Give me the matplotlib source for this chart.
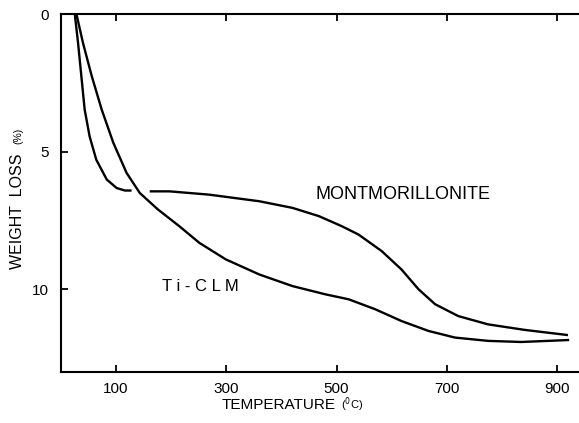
import matplotlib
matplotlib.use('Agg')
import matplotlib.pyplot as plt

plt.rcParams['font.family'] = ['Liberation Sans', 'DejaVu Sans']

# montmorillonite, first part (the trace has a small gap near 140 C)
mont_t1 = [25, 31, 37, 43, 52, 64, 83, 101, 116, 128]
mont_w1 = [0, 1.06, 2.27, 3.48, 4.45, 5.29, 6.01, 6.32, 6.41, 6.41]
# montmorillonite, after the gap
mont_t2 = [161, 197, 269, 360, 420, 468, 510, 540, 582, 618, 649, 679, 721, 775, 841, 920]
mont_w2 = [6.44, 6.44, 6.56, 6.80, 7.04, 7.34, 7.71, 8.01, 8.61, 9.28, 10.0, 10.54, 10.97, 11.27, 11.47, 11.66]

ticlm_t = [28, 40, 56, 74, 95, 119, 143, 176, 215, 251, 299, 360, 420, 480, 522, 570, 618, 667, 715, 775, 835, 920]
ticlm_w = [0, 1.06, 2.27, 3.48, 4.68, 5.77, 6.50, 7.10, 7.71, 8.31, 8.91, 9.46, 9.88, 10.18, 10.36, 10.72, 11.15, 11.51, 11.75, 11.87, 11.91, 11.84]

xticks = [100, 300, 500, 700, 900]
yticks = [0, 5, 10]

fig = plt.figure(figsize=(5.79, 4.23), dpi=100)
ax = fig.add_axes([61/579, 1-372/423, 1-61/579, (372-14)/423])

ax.plot(mont_t1, mont_w1, color='black', lw=1.7, solid_capstyle='butt')
ax.plot(mont_t2, mont_w2, color='black', lw=1.7, solid_capstyle='butt')
ax.plot(ticlm_t, ticlm_w, color='black', lw=1.7)

ax.set_xlim(0, 940)
ax.set_ylim(13, 0)
ax.set_xticks(xticks)
ax.set_yticks(yticks)
ax.spines['right'].set_visible(False)
for s in ['left', 'top', 'bottom']:
    ax.spines[s].set_linewidth(1.5)
ax.tick_params(axis='x', direction='in', top=True, length=5, width=1.3, pad=7, labelsize=11)
ax.tick_params(axis='y', direction='in', length=5, width=1.3, pad=9, labelsize=11)

ax.text(462, 6.56, 'MONTMORILLONITE', fontsize=13, ha='left', va='center')
ax.text(184, 9.88, 'T i - C L M', fontsize=12, ha='left', va='center')

fig.text(222/579, 1-405/423, 'TEMPERATURE', fontsize=11, ha='left', va='center')
fig.text(341/579, 1-405/423, '($^{0}$C)', fontsize=8, ha='left', va='center')
fig.text(18/579, 1-211/423, 'WEIGHT  LOSS', fontsize=11.5, rotation=90, ha='center', va='center')
fig.text(18/579, 1-136/423, '(%)', fontsize=7.5, rotation=90, ha='center', va='center')

fig.savefig('out.png', dpi=100)
